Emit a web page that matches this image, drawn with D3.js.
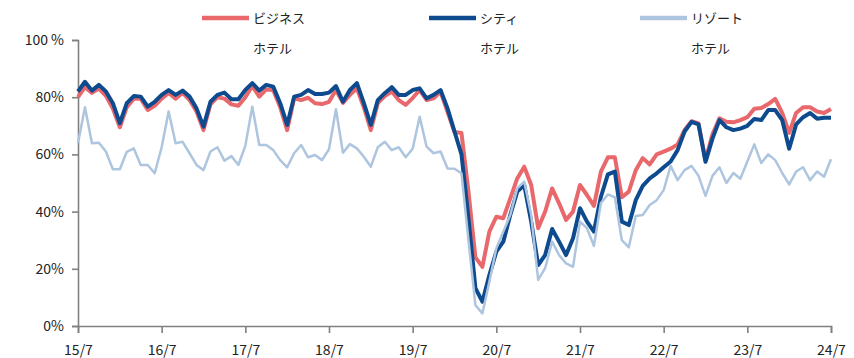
<!DOCTYPE html>
<html><head><meta charset="utf-8">
<script src="https://cdn.jsdelivr.net/npm/d3@7"></script>
<style>
html,body{margin:0;padding:0;background:#fff;}
svg{display:block;font-family:"Noto Sans CJK JP","Noto Sans",sans-serif;}
</style></head>
<body><svg id="c" width="854" height="358"></svg>
<script>
// months from 2015/7 (index 0) to 2024/7 (index 108)
const business = [
80,83.5,81.5,83,80.5,76,69.5,76.5,79.5,79.5,75.5,77,
79.5,81.5,79.5,81.5,79,75,68.5,77.5,80,79.5,77.5,77,
80,83.9,80.2,82.7,82.5,76.5,68.5,79.6,79,79.8,77.9,77.6,
78.4,82.5,78,80.8,83.1,76.4,68.5,77.9,80.4,82,79,77.3,
79.7,82.5,79,79.6,81.9,74.9,67.8,67.5,47,24,20.7,33,
38.2,37.7,44.6,51.6,55.7,49.3,34.2,40,48.1,42.9,37.1,40,
49.3,45.8,42,54,59,59,45,47,54.5,58.7,56.5,60,
61,62,63.5,68.5,71.6,70.8,58,67,72.6,71.4,71.2,72,
73,76,76.2,77.6,79.4,74.5,67.5,74.5,76.5,76.5,75,74.5,
75.9];
const city = [
82,85.4,82.3,84.3,82,77.9,70.9,77.9,80.4,80.2,76.7,78.4,
80.8,82.5,80.8,82.3,80.2,76.1,69.7,78.4,80.8,81.6,79.3,79.3,
82.5,84.9,82.3,84.3,83.7,77.9,70.3,80.2,80.8,82.5,81.1,81.1,
81.6,83.9,78.4,82.5,84.9,77.9,70.3,79,81.4,83.5,80.8,80.8,
82.5,83.1,79.6,80.8,82.5,76.1,68,60,37.7,13.2,8.5,17.8,
26,29.5,38.8,47,49.3,36.5,21.3,24.8,33.9,29.5,24.8,30.7,
41.2,36.5,33,45.2,53,54,36.5,35.3,44,49,51.6,53.4,
55.5,57.5,61.5,68,71.4,70.5,57.4,65.5,72,69.5,68.5,69,
70,72.4,72,75.5,75.5,72,62,70.5,73,74.5,72.5,72.8,
72.8];
const resort = [
64,76.5,63.9,64.1,61,54.8,54.8,60.9,62.1,56.3,56.3,53.4,
62.5,75,63.9,64.4,60.4,56.3,54.5,61,62.5,57.8,59.4,56.3,
63,76.7,63.3,63.3,61.5,58,55.5,60.4,63.3,59,59.8,58,
61.8,75.8,60.6,63.6,62.1,59.2,55.7,62.5,64.4,61.5,62.5,59,
62,73.2,62.7,60.4,61,55.1,55,53.4,30,7.3,4.4,15.5,
27.2,33,38.8,48.1,50.5,38.8,16.1,20.2,29.5,24.8,21.9,20.7,
36.5,34.2,28,43,46,45,30,27.5,38.5,38.8,42.3,44,
47.5,56,51,54.5,56,52.5,45.5,52.5,55.5,50,53.5,51.5,
57.5,63.5,57,60,58,53.5,49.5,54,55.5,51,54,52.2,
58.3];
const xTickIndex = [0,12,24,36,48,60,72,84,96,108];
const xTickLabels = ["15/7","16/7","17/7","18/7","19/7","20/7","21/7","22/7","23/7","24/7"];
const yTicks = [0,20,40,60,80,100];
const yTickLabels = ["0%","20%","40%","60%","80%","100 %"];
const seriesNames = [["ビジネス","ホテル"],["シティ","ホテル"],["リゾート","ホテル"]];
const seriesColors = ["#E9686C","#0E4B8E","#AEC5DF"];
const seriesWidths = [4,4,2.5];

const svg = d3.select("#c");
const x = d3.scaleLinear().domain([0,108]).range([78,831]);
const y = d3.scaleLinear().domain([0,100]).range([326,40]);

const axisColor = "#808080";
// y axis
const ya = svg.append("g").attr("transform","translate(78,0)")
  .call(d3.axisLeft(y).tickValues(yTicks).tickSize(6).tickPadding(8)
    .tickFormat((d,i)=>yTickLabels[i]));
// x axis
const xa = svg.append("g").attr("transform","translate(0,326)")
  .call(d3.axisBottom(x).tickValues(xTickIndex).tickSize(7).tickPadding(12)
    .tickFormat((d,i)=>xTickLabels[i]));
[ya,xa].forEach(g=>{
  g.select(".domain").attr("stroke",axisColor).attr("stroke-width",1.6);
  g.selectAll(".tick line").attr("stroke",axisColor).attr("stroke-width",1.6);
  g.selectAll("text").attr("fill","#222").style("font-size","14px")
   .style("font-family",'"Noto Sans CJK JP","Noto Sans",sans-serif');
});

const line = d3.line().x((d,i)=>x(i)).y(d=>y(d)).curve(d3.curveLinear);
const data = [business, city, resort];
data.forEach((s,k)=>{
  svg.append("path").datum(s).attr("d",line).attr("fill","none")
    .attr("stroke",seriesColors[k]).attr("stroke-width",seriesWidths[k])
    .attr("stroke-linejoin","round");
});

// legend
const legX = [202,429,640];
seriesNames.forEach((n,k)=>{
  const g = svg.append("g");
  g.append("line").attr("x1",legX[k]).attr("x2",legX[k]+47).attr("y1",18).attr("y2",18)
    .attr("stroke",seriesColors[k]).attr("stroke-width",4.5);
  g.append("text").attr("x",legX[k]+51).attr("y",23).text(n[0])
    .attr("fill","#222").style("font-size","13px");
  g.append("text").attr("x",legX[k]+51).attr("y",53).text(n[1])
    .attr("fill","#222").style("font-size","13px");
});
</script></body></html>
